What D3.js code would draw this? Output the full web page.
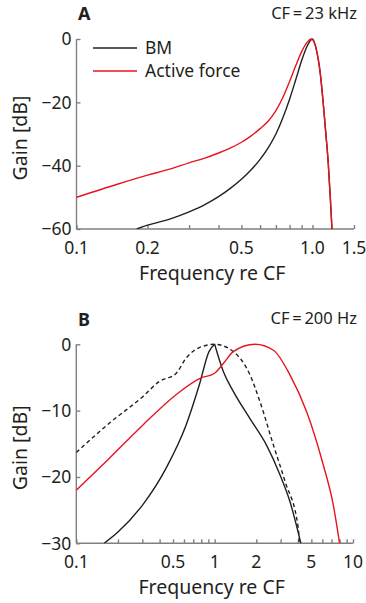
<!DOCTYPE html>
<html><head><meta charset="utf-8">
<script src="https://cdn.jsdelivr.net/npm/d3@7"></script>
<style>
html,body{margin:0;padding:0;background:#fff;}
text{font-family:"Noto Sans",Lato,sans-serif;fill:#231f20;}
</style></head>
<body><svg id="c" width="366" height="603"></svg>
<script>
// ---------- Panel A data (CF = 23 kHz) ----------
const aBmFreq  = [0.18, 0.2, 0.25, 0.3, 0.35, 0.4, 0.45, 0.5, 0.55, 0.6, 0.65, 0.7, 0.75, 0.8, 0.85, 0.9, 0.95, 1.0, 1.04, 1.08, 1.111, 1.14, 1.167, 1.19, 1.21];
const aBmGain  = [-60, -58.8, -56.8, -54.6, -52.3, -49.8, -47.1, -44.3, -41.3, -38, -34.3, -30, -24.8, -19, -12.8, -6.8, -2.2, 0, -3.5, -11, -20.3, -30, -39.3, -50, -60];
const aActFreq = [0.1, 0.15, 0.2, 0.25, 0.3, 0.35, 0.4, 0.45, 0.5, 0.55, 0.6, 0.65, 0.7, 0.75, 0.8, 0.85, 0.9, 0.95, 0.99, 1.04, 1.08, 1.111, 1.14, 1.167, 1.19, 1.21];
const aActGain = [-50, -45.8, -43.0, -41.0, -39.1, -37.6, -36, -34.4, -32.6, -30.6, -28.3, -25.9, -22.6, -18.4, -13.4, -8.4, -4, -1, 0, -3.5, -11, -20.3, -30, -39.3, -50, -60];
const aXLabels = [0.1, 0.2, 0.5, 1.0, 1.5];
const aXMinor  = [0.3, 0.4, 0.6, 0.7, 0.8, 0.9];
const aYTicks  = [0, -20, -40, -60];

// ---------- Panel B data (CF = 200 Hz) ----------
const bBmFreq   = [0.159, 0.2, 0.302, 0.445, 0.621, 0.775, 0.91, 1.0, 1.155, 1.364, 1.8, 2.37, 2.97, 3.5, 4.2];
const bBmGain   = [-30, -28.3, -24.2, -18.7, -12.2, -6.1, -1.1, 0, -4.1, -7.1, -11.2, -15.2, -19.7, -23.7, -30];
const bDashFreq = [0.1, 0.173, 0.302, 0.398, 0.526, 0.621, 0.775, 1.0, 1.364, 1.8, 2.13, 2.66, 3.23, 4.02, 4.1];
const bDashGain = [-16.3, -11.9, -7.9, -5.6, -4.4, -2.1, -0.5, 0, -1.1, -4.6, -8.7, -15.2, -20.7, -27.7, -30];
const bActFreq  = [0.1, 0.173, 0.302, 0.526, 0.79, 0.994, 1.155, 1.364, 1.96, 2.66, 3.5, 4.63, 6.1, 7.2, 8.0];
const bActGain  = [-22, -17.2, -12.2, -7.6, -5.1, -4.4, -2.9, -1.1, 0, -0.9, -4.6, -10.2, -18.2, -24.2, -30];
const bXLabels  = [0.1, 0.5, 1, 2, 5, 10];
const bXMinor   = [0.2, 0.3, 0.4, 0.6, 0.7, 0.8, 0.9, 3, 4, 6, 7, 8, 9];
const bYTicks   = [0, -10, -20, -30];

const AXIS = "#808080", RED = "#e8141e", BLACK = "#231f20";
const svg = d3.select("#c");

function fmtMinus(v){ return v < 0 ? "\u2212" + Math.abs(v) : String(v); }

function panel(o){
  const x = d3.scaleLog().domain(o.xDomain).range([o.x0, o.x1]);
  const y = d3.scaleLinear().domain(o.yDomain).range([o.y1, o.y0]);
  const g = svg.append("g");
  const cid = "clip" + o.letter;
  svg.append("clipPath").attr("id", cid).append("rect")
    .attr("x", o.x0).attr("y", o.y0 - 3).attr("width", o.x1 - o.x0).attr("height", o.y1 - o.y0 + 3);

  // axes
  const xa = g.append("g").attr("transform", `translate(0,${o.y1})`)
    .call(d3.axisTop(x).tickValues(o.xLabels.concat(o.xMinor)).tickSize(4).tickFormat(""));
  xa.select(".domain").attr("d", `M${o.x0},0H${o.x1}`);
  xa.selectAll("path,line").attr("stroke", AXIS).attr("stroke-width", 1.4);
  const ya = g.append("g").attr("transform", `translate(${o.x0},0)`)
    .call(d3.axisRight(y).tickValues(o.yTicks).tickSize(4).tickFormat(""));
  ya.select(".domain").attr("d", `M0,${o.y0}V${o.y1}`);
  ya.selectAll("path,line").attr("stroke", AXIS).attr("stroke-width", 1.4);

  // tick labels
  g.selectAll(".xl").data(o.xLabels).join("text")
    .attr("x", d => x(d)).attr("y", o.y1 + 25).attr("text-anchor", "middle")
    .attr("font-size", 17.5).text(d => o.xFmt(d));
  g.selectAll(".yl").data(o.yTicks).join("text")
    .attr("x", o.x0 - 5).attr("y", d => y(d)).attr("dy", "0.36em").attr("text-anchor", "end")
    .attr("font-size", 17.5).text(fmtMinus);

  // axis titles
  g.append("text").attr("x", (o.x0 + o.x1) / 2 - 3).attr("y", o.y1 + 51).attr("text-anchor", "middle")
    .attr("font-size", 19.5).text("Frequency re CF");
  g.append("text").attr("transform", `translate(27,${(o.y0 + o.y1) / 2 + 4}) rotate(-90)`)
    .attr("text-anchor", "middle").attr("font-size", 19.5).text("Gain [dB]");
  g.append("text").attr("x", 78).attr("y", o.letterY).attr("font-size", 18).attr("font-weight", "bold")
    .text(o.letter);
  g.append("text").attr("x", 357).attr("y", o.cfY).attr("text-anchor", "end").attr("font-size", 16.5)
    .text(o.cf);

  const line = d3.line().x(d => x(d[0])).y(d => y(d[1])).curve(d3.curveMonotoneX);
  const cg = g.append("g").attr("clip-path", `url(#${cid})`);
  o.series.forEach(s => {
    const pts = d3.zip(s.f, s.g);
    const parts = s.split ? (() => { const i = d3.maxIndex(s.g); return [pts.slice(0, i + 1), pts.slice(i)]; })() : [pts];
    parts.forEach(p => cg.append("path").attr("d", line(p)).attr("fill", "none")
      .attr("stroke", s.color).attr("stroke-width", 1.4)
      .attr("stroke-dasharray", s.dash || null));
  });
  return {x, y, g};
}

const A = panel({
  letter: "A", letterY: 19.5, cf: "CF\u2009=\u200923 kHz", cfY: 18.5,
  xDomain: [0.1, 1.5], yDomain: [-60, 0], x0: 76.5, x1: 354, y0: 39, y1: 229,
  xLabels: aXLabels, xMinor: aXMinor, yTicks: aYTicks, xFmt: d => d3.format(".1f")(d),
  series: [
    {f: aBmFreq, g: aBmGain, color: BLACK},
    {f: aActFreq, g: aActGain, color: RED}
  ]
});
// legend
const legend = [{name: "BM", color: BLACK}, {name: "Active force", color: RED}];
const lg = svg.append("g");
legend.forEach((d, i) => {
  lg.append("line").attr("x1", 93).attr("x2", 137).attr("y1", 48 + i * 23).attr("y2", 48 + i * 23)
    .attr("stroke", d.color).attr("stroke-width", 1.4);
  lg.append("text").attr("x", 145).attr("y", 48 + i * 23).attr("dy", "0.36em").attr("font-size", 17.5).text(d.name);
});

const B = panel({
  letter: "B", letterY: 326, cf: "CF\u2009=\u2009200 Hz", cfY: 323.5,
  xDomain: [0.1, 10], yDomain: [-30, 0], x0: 76.3, x1: 353, y0: 344.3, y1: 543.3,
  xLabels: bXLabels, xMinor: bXMinor, yTicks: bYTicks, xFmt: d => String(d),
  series: [
    {f: bDashFreq, g: bDashGain, color: BLACK, dash: "4,3"},
    {f: bBmFreq, g: bBmGain, color: BLACK, split: true},
    {f: bActFreq, g: bActGain, color: RED}
  ]
});
</script></body></html>
